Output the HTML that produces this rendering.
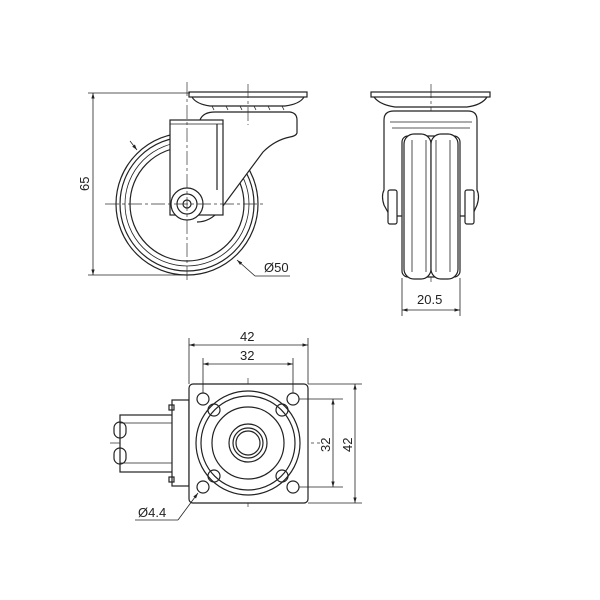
<!DOCTYPE html>
<html><head><meta charset="utf-8"><style>
html,body{margin:0;padding:0;background:#fff}
svg{display:block}
text{font-family:"Liberation Sans",sans-serif;font-size:13px;fill:#222}
</style></head><body>
<svg width="600" height="600" viewBox="0 0 600 600" xmlns="http://www.w3.org/2000/svg">
<defs>
<marker id="a" viewBox="0 0 10 10" refX="10" refY="5" markerWidth="7" markerHeight="7" orient="auto-start-reverse"><path d="M0,2 L10,5 L0,8 z" fill="#222"/></marker>
</defs>
<g fill="none" stroke="#222" stroke-width="1.2">
<circle cx="187" cy="204" r="71"/>
<circle cx="187" cy="204" r="67"/>
<circle cx="187" cy="204" r="62" stroke-width="0.8"/>
<circle cx="187" cy="204" r="57"/>
<rect x="189" y="92" width="118" height="5"/>
<path d="M192,97 Q196,104 210,106 L285,106 Q300,104 304,97"/>
<path d="M212,106 L214,110 M226,106 L228,110 M240,106 L242,110 M254,106 L256,110 M268,106 L270,110 M282,106 L284,110" stroke-width="0.8"/>
<path d="M200,120 Q203,112 215,112 L290,112 Q297,113 297,120 L297,133 Q296,136 290,137 Q275,140 263,152 L220,210 Q210,222 197,222" fill="#fff"/>
<rect x="170" y="120" width="53" height="95" fill="#fff"/>
<path d="M170,120 L170,124 L223,124" stroke-width="0.8"/>
<circle cx="187" cy="204" r="16" fill="#fff"/>
<circle cx="187" cy="204" r="10"/>
<circle cx="187" cy="204" r="4"/>
<path d="M217,124 L217,190"/>
</g>
<g fill="none" stroke="#333" stroke-width="0.7" stroke-dasharray="14,3,3,3">
<line x1="187" y1="82" x2="187" y2="282"/>
<line x1="105" y1="204" x2="265" y2="204"/>
<line x1="248" y1="84" x2="248" y2="125"/>
<line x1="431" y1="84" x2="431" y2="285"/>
<line x1="248" y1="378" x2="248" y2="510"/>
<line x1="110" y1="443" x2="320" y2="443"/>
</g>
<g fill="none" stroke="#222" stroke-width="0.8">
<line x1="88" y1="93" x2="190" y2="93"/>
<line x1="88" y1="275" x2="187" y2="275"/>
<line x1="93" y1="93" x2="93" y2="275" marker-start="url(#a)" marker-end="url(#a)"/>
<line x1="130" y1="141" x2="137" y2="150" marker-end="url(#a)"/>
<line x1="290" y1="276" x2="255" y2="276"/>
<line x1="255" y1="276" x2="237" y2="260" marker-end="url(#a)"/>
</g>
<text x="0" y="0" transform="translate(89,191) rotate(-90)">65</text>
<text x="264" y="272">Ø50</text>

<g fill="none" stroke="#222" stroke-width="1.2">
<rect x="371" y="92" width="119" height="5"/>
<path d="M374,97 Q380,105 395,107 L467,107 Q482,105 487,97"/>
<path d="M384,120 Q384,111 394,111 L468,111 Q477,111 477,120 L477,190 Q480,196 477,205 L472,216 L390,216 L384,205 Q381,196 384,190 Z" fill="#fff"/>
<path d="M390,122 L472,122 M392,128 L470,128" stroke-width="0.8"/>
<rect x="388" y="190" width="9" height="34" rx="2" fill="#fff"/>
<rect x="465" y="190" width="9" height="34" rx="2" fill="#fff"/>
<rect x="402" y="136" width="58" height="141" rx="6" fill="#fff"/>
<rect x="404" y="134" width="27" height="145" rx="10" fill="#fff"/>
<rect x="431" y="134" width="27" height="145" rx="10" fill="#fff"/>
<line x1="412" y1="140" x2="412" y2="272" stroke-width="0.8"/>
<line x1="450" y1="140" x2="450" y2="272" stroke-width="0.8"/>
<line x1="426" y1="140" x2="426" y2="272" stroke-width="0.8"/>
<line x1="436" y1="140" x2="436" y2="272" stroke-width="0.8"/>
</g>
<g fill="none" stroke="#222" stroke-width="0.8">
<line x1="402" y1="278" x2="402" y2="316"/>
<line x1="460" y1="278" x2="460" y2="316"/>
<line x1="402" y1="310" x2="460" y2="310" marker-start="url(#a)" marker-end="url(#a)"/>
</g>
<text x="417" y="304">20.5</text>

<g fill="none" stroke="#222" stroke-width="1.2">
<rect x="120" y="415" width="54" height="57" fill="#fff"/>
<rect x="114" y="422" width="12" height="16" rx="6"/>
<rect x="114" y="448" width="12" height="16" rx="6"/>
<line x1="120" y1="423" x2="174" y2="423" stroke-width="0.8"/>
<line x1="120" y1="463" x2="174" y2="463" stroke-width="0.8"/>
<rect x="172" y="400" width="17" height="86" fill="#fff"/>
<rect x="169" y="405" width="5" height="5"/>
<rect x="169" y="477" width="5" height="5"/>
<rect x="189" y="384" width="119" height="119" rx="4" fill="#fff"/>
<circle cx="248" cy="443" r="52"/>
<circle cx="248" cy="443" r="47"/>
<circle cx="248" cy="443" r="36"/>
<circle cx="248" cy="443" r="19"/>
<circle cx="248" cy="443" r="15"/>
<circle cx="248" cy="443" r="12"/>
<circle cx="203" cy="399" r="6"/>
<circle cx="293" cy="399" r="6"/>
<circle cx="203" cy="487" r="6"/>
<circle cx="293" cy="487" r="6"/>
<circle cx="214" cy="410" r="6"/>
<circle cx="282" cy="410" r="6"/>
<circle cx="214" cy="476" r="6"/>
<circle cx="282" cy="476" r="6"/>
</g>
<g fill="none" stroke="#222" stroke-width="0.8">
<line x1="189" y1="338" x2="189" y2="384"/>
<line x1="308" y1="338" x2="308" y2="384"/>
<line x1="189" y1="345" x2="308" y2="345" marker-start="url(#a)" marker-end="url(#a)"/>
<line x1="203" y1="358" x2="203" y2="393"/>
<line x1="293" y1="358" x2="293" y2="393"/>
<line x1="203" y1="364" x2="293" y2="364" marker-start="url(#a)" marker-end="url(#a)"/>
<line x1="308" y1="384" x2="362" y2="384"/>
<line x1="308" y1="503" x2="362" y2="503"/>
<line x1="355" y1="384" x2="355" y2="503" marker-start="url(#a)" marker-end="url(#a)"/>
<line x1="299" y1="399" x2="343" y2="399"/>
<line x1="299" y1="487" x2="343" y2="487"/>
<line x1="333" y1="399" x2="333" y2="487" marker-start="url(#a)" marker-end="url(#a)"/>
<line x1="135" y1="520" x2="178" y2="520"/>
<line x1="178" y1="520" x2="198" y2="493" marker-end="url(#a)"/>
</g>
<text x="240" y="341">42</text>
<text x="240" y="360">32</text>
<text transform="translate(330,452) rotate(-90)">32</text>
<text transform="translate(352,452) rotate(-90)">42</text>
<text x="138" y="517">Ø4.4</text>
</svg>
</body></html>
